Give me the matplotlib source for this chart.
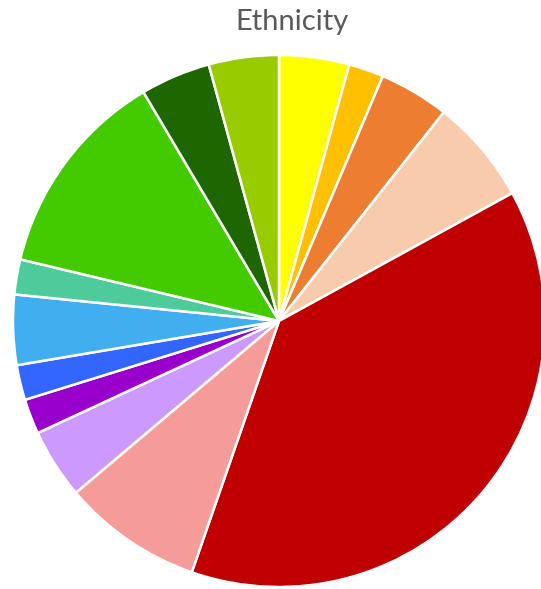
import matplotlib.pyplot as plt

# counts per group, clockwise from 12 o'clock
groups = ['A', 'B', 'C', 'D', 'E', 'F', 'G', 'H', 'I', 'J', 'K', 'L', 'M', 'N']
counts = [2, 1, 2, 3, 18, 4, 2, 1, 1, 2, 1, 6, 2, 2]
colors = ['#FFFF00', '#FFC000', '#ED7D31', '#F8CBAD', '#C00000', '#F59C9A',
          '#CC99FF', '#9900CC', '#3366FF', '#41AEF0', '#4DCB9A', '#43CB00',
          '#1E6600', '#99CC00']

W, H = 541, 589
cx, cy, r = 279, 321, 266

fig = plt.figure(figsize=(W / 100, H / 100), dpi=100)
ax = fig.add_axes([(cx - r) / W, (H - cy - r) / H, 2 * r / W, 2 * r / H])
ax.pie(counts, colors=colors, startangle=90, counterclock=False,
       wedgeprops=dict(edgecolor='white', linewidth=1.8))
ax.set_xlim(-1, 1)
ax.set_ylim(-1, 1)
ax.set_aspect('equal')
ax.axis('off')

fig.text(292 / W, 1 - 22 / H, 'Ethnicity', ha='center', va='center',
         fontsize=21, color='#595959', family=['Lato', 'DejaVu Sans'])

fig.savefig('out.png', dpi=100)
